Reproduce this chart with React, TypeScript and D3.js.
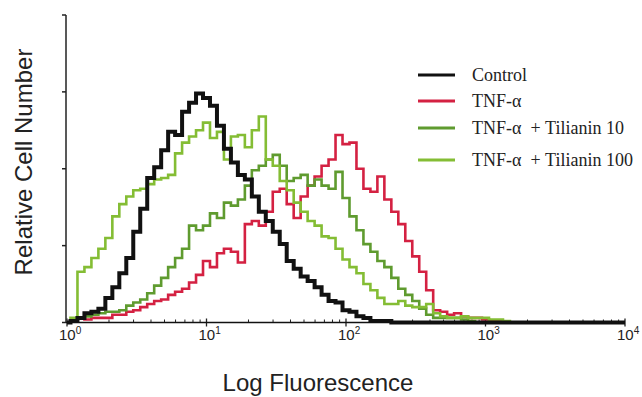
import React, { useRef, useEffect } from 'react';
import * as d3 from 'd3';

// histogram bins, log10 of fluorescence (0.05 decade per bin)
const binLogs = d3.range(0, 3.25, 0.05);

const controlCounts = [
  0, 1, 3, 6, 7, 9, 16, 23, 32, 42, 59, 74, 94, 101, 112, 124, 122, 137, 143, 149,
  146, 141, 128, 113, 104, 96, 93, 82, 72, 66, 59, 51, 40, 35, 30, 27, 23, 18, 14, 13,
  8, 7, 4, 3, 1, 1, 1, 0, 0, 0, 0, 0, 0, 0, 0, 0, 0, 0, 0, 0,
  0, 0, 0, 0, 0,
];

const tnfCounts = [
  0, 1, 3, 2, 3, 3, 3, 5, 5, 7, 8, 10, 12, 14, 15, 18, 20, 22, 26, 31,
  40, 36, 45, 48, 46, 39, 64, 66, 63, 72, 85, 87, 77, 68, 82, 89, 95, 102, 106, 122,
  116, 117, 100, 87, 85, 95, 80, 72, 64, 53, 43, 33, 21, 8, 7, 5, 6, 4, 3, 3,
  2, 1, 1, 0, 0,
];

const til10Counts = [
  0, 1, 3, 4, 5, 6, 7, 7, 8, 11, 13, 15, 19, 24, 29, 36, 42, 48, 63, 60,
  63, 71, 68, 78, 76, 80, 89, 99, 102, 106, 109, 102, 92, 94, 96, 89, 93, 89, 87, 98,
  81, 69, 60, 51, 46, 40, 36, 29, 22, 18, 14, 9, 5, 3, 3, 3, 3, 2, 1, 0,
  0, 0, 0, 0, 0,
];

const til100Counts = [
  0, 3, 33, 36, 42, 48, 55, 69, 77, 82, 86, 87, 90, 93, 94, 96, 110, 117, 121, 125,
  130, 120, 124, 106, 121, 122, 114, 125, 134, 106, 102, 92, 86, 78, 72, 66, 63, 56, 55, 48,
  41, 36, 32, 25, 21, 16, 12, 12, 14, 11, 10, 10, 12, 6, 4, 3, 3, 4, 3, 3,
  3, 2, 2, 1, 0,
];

const seriesNames = ['Control', 'TNF-\u03b1', 'TNF-\u03b1  + Tilianin 10', 'TNF-\u03b1  + Tilianin 100'];
const seriesColors = ['#111111', '#d42142', '#5f9b2f', '#84bd34'];
const seriesData = [controlCounts, tnfCounts, til10Counts, til100Counts];

const xTickExps = [0, 1, 2, 3, 4];
const yTicks = [0, 50, 100, 150, 200];

const App = () => {
  const svgRef = useRef(null);
  const width = 642;
  const height = 397;

  useEffect(() => {
    const svg = d3.select(svgRef.current);
    svg.selectAll('*').remove();

    const x = d3.scaleLog().domain([1, 10000]).range([67, 625]);
    const y = d3.scaleLinear().domain([0, 200]).range([322.5, 15]);

    // minor ticks on the log axis
    const minors = [];
    for (let e = 0; e < 4; e++) {
      for (let m = 2; m < 10; m++) minors.push(m * Math.pow(10, e));
    }
    svg.append('g')
      .selectAll('line')
      .data(minors)
      .enter()
      .append('line')
      .attr('x1', d => x(d))
      .attr('x2', d => x(d))
      .attr('y1', y(0) - 3)
      .attr('y2', y(0))
      .attr('stroke', '#222')
      .attr('stroke-width', 1);

    svg.append('g')
      .selectAll('line')
      .data(xTickExps)
      .enter()
      .append('line')
      .attr('x1', d => x(Math.pow(10, d)))
      .attr('x2', d => x(Math.pow(10, d)))
      .attr('y1', y(0) - 4)
      .attr('y2', y(0) + 4)
      .attr('stroke', '#222')
      .attr('stroke-width', 1.3);

    const labels = svg.append('g')
      .selectAll('text')
      .data(xTickExps)
      .enter()
      .append('text')
      .attr('x', d => x(Math.pow(10, d)) - 8)
      .attr('y', 340)
      .style('font-family', 'Liberation Sans, Arial, sans-serif')
      .style('font-size', '15px')
      .attr('fill', '#222');
    labels.append('tspan').text('10');
    labels.append('tspan')
      .attr('dy', -6)
      .style('font-size', '10px')
      .text(d => d);

    // y axis
    svg.append('line')
      .attr('x1', 66).attr('x2', 66)
      .attr('y1', y(200)).attr('y2', y(0))
      .attr('stroke', '#222')
      .attr('stroke-width', 1.5);
    svg.append('g')
      .selectAll('line')
      .data(yTicks)
      .enter()
      .append('line')
      .attr('x1', 62)
      .attr('x2', 66)
      .attr('y1', d => y(d))
      .attr('y2', d => y(d))
      .attr('stroke', '#222')
      .attr('stroke-width', 1.5);

    const line = d3.line()
      .x(d => x(d[0]))
      .y(d => y(d[1]))
      .curve(d3.curveStep);

    const order = [1, 2, 3, 0];
    order.forEach(k => {
      const pts = binLogs.map((lg, i) => [Math.pow(10, lg), seriesData[k][i]]);
      pts.push([10000, 0]);
      svg.append('path')
        .datum(pts)
        .attr('d', line)
        .attr('fill', 'none')
        .attr('stroke', seriesColors[k])
        .attr('stroke-width', k === 0 ? 4 : 2.6)
        .attr('stroke-linejoin', 'miter');
    });

    // x axis line
    svg.append('line')
      .attr('x1', 66).attr('x2', 625)
      .attr('y1', y(0)).attr('y2', y(0))
      .attr('stroke', '#111')
      .attr('stroke-width', 1.5);

    // legend
    const legendY = [75, 101, 128, 160];
    const lg = svg.append('g');
    seriesNames.forEach((name, i) => {
      lg.append('line')
        .attr('x1', 418).attr('x2', 455)
        .attr('y1', legendY[i]).attr('y2', legendY[i])
        .attr('stroke', seriesColors[i])
        .attr('stroke-width', 3);
      lg.append('text')
        .attr('x', 472)
        .attr('y', legendY[i] + 6)
        .style('font-family', 'Liberation Serif, Times New Roman, serif')
        .style('font-size', '18px')
        .style('white-space', 'pre')
        .attr('fill', '#222')
        .text(name);
    });

    svg.append('text')
      .attr('transform', 'translate(32, 162) rotate(-90)')
      .style('text-anchor', 'middle')
      .style('font-family', 'Liberation Sans, Arial, sans-serif')
      .style('font-size', '24px')
      .attr('fill', '#222')
      .text('Relative Cell Number');

    svg.append('text')
      .attr('x', 318)
      .attr('y', 391)
      .style('text-anchor', 'middle')
      .style('font-family', 'Liberation Sans, Arial, sans-serif')
      .style('font-size', '24px')
      .attr('fill', '#222')
      .text('Log Fluorescence');
  }, []);

  return (
    <svg
      ref={svgRef}
      width={width}
      height={height}
      style={{ position: 'absolute', left: 0, top: 0, background: '#fff' }}
    ></svg>
  );
};

export default App;
